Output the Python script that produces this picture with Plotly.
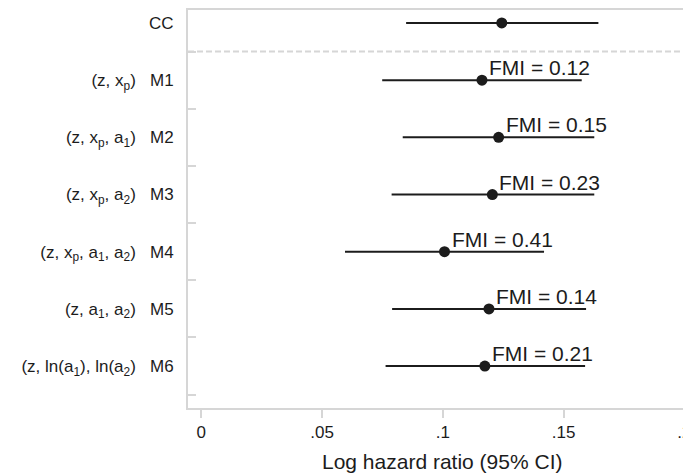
import plotly.graph_objects as go

labels = ["CC",
          "(z, x<sub>p</sub>)\u00a0\u00a0\u00a0M1",
          "(z, x<sub>p</sub>, a<sub>1</sub>)\u00a0\u00a0\u00a0M2",
          "(z, x<sub>p</sub>, a<sub>2</sub>)\u00a0\u00a0\u00a0M3",
          "(z, x<sub>p</sub>, a<sub>1</sub>, a<sub>2</sub>)\u00a0\u00a0\u00a0M4",
          "(z, a<sub>1</sub>, a<sub>2</sub>)\u00a0\u00a0\u00a0M5",
          "(z, ln(a<sub>1</sub>), ln(a<sub>2</sub>)\u00a0\u00a0\u00a0M6"]
estimate = [0.1244, 0.1162, 0.1231, 0.1205, 0.1007, 0.1191, 0.1174]
ci_low = [0.0848, 0.0749, 0.0834, 0.0788, 0.0595, 0.0790, 0.0763]
ci_high = [0.1644, 0.1575, 0.1627, 0.1627, 0.1419, 0.1593, 0.1589]
fmi = [None, "0.12", "0.15", "0.23", "0.41", "0.14", "0.21"]
xticks = [0, 0.05, 0.1, 0.15, 0.2]
xticklabels = ["0", ".05", ".1", ".15", ".2"]

rows = list(range(len(labels)))
ink = "#1c1c1c"
grey = "#d6d6d6"
font = "Liberation Sans, Arial, sans-serif"

fig = go.Figure()
fig.add_trace(go.Scatter(
    x=estimate, y=rows, mode="markers",
    marker=dict(size=11, color=ink),
    error_x=dict(type="data", symmetric=False,
                 array=[h - e for h, e in zip(ci_high, estimate)],
                 arrayminus=[e - l for e, l in zip(estimate, ci_low)],
                 width=0, thickness=2, color=ink),
    showlegend=False, hoverinfo="skip"))

for r, (e, f) in enumerate(zip(estimate, fmi)):
    if f is None:
        continue
    fig.add_annotation(x=e, y=r, xref="x", yref="y", text="FMI = " + f,
                       showarrow=False, xanchor="left", yanchor="bottom",
                       xshift=5, yshift=-1,
                       font=dict(size=21, color=ink, family=font))

fig.add_shape(type="line", xref="paper", yref="y", x0=0, x1=1, y0=0.5, y1=0.5,
              line=dict(color=grey, width=2, dash="6px,3px"), layer="below")

fig.add_annotation(x=0.0995, xref="x", y=0, yref="paper", yanchor="middle",
                   yshift=-53, showarrow=False, text="Log hazard ratio (95% CI)",
                   font=dict(size=21, color=ink, family=font))

# page body has an 8px margin; figure sized/offset to compensate
fig.update_layout(
    width=683, height=465,
    margin=dict(l=180, r=0, t=1, b=65),
    paper_bgcolor="white", plot_bgcolor="white",
    font=dict(family=font, color=ink, size=16),
    xaxis=dict(range=[-0.0055, 0.2015], tickvals=xticks, ticktext=xticklabels,
               ticks="outside", ticklen=8, tickwidth=1.5, tickcolor=grey,
               ticklabeloverflow="allow",
               showline=True, mirror=True, linecolor=grey, linewidth=2,
               showgrid=False, zeroline=False, tickfont=dict(size=17)),
    yaxis=dict(range=[6.733, -0.227], tickvals=rows, ticktext=labels,
               ticks="", showline=True, mirror=False, linecolor=grey, linewidth=2,
               showgrid=False, zeroline=False, ticklabelstandoff=9,
               tickfont=dict(size=17),
               minor=dict(tickvals=[r + 0.5 for r in rows], ticks="inside",
                          ticklen=8, tickwidth=1.5, tickcolor=grey)),
)

fig.write_html("out.html")
